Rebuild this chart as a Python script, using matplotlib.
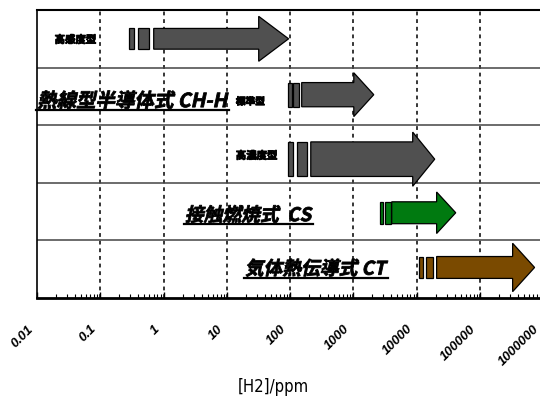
import matplotlib
matplotlib.use('Agg')
import matplotlib.pyplot as plt
import matplotlib.transforms as mtransforms
from matplotlib.patheffects import AbstractPathEffect, withStroke
from matplotlib.lines import Line2D

# ── data (ppm) ───────────────────────────────────────────────────────────
rows = [4.5, 3.5, 2.5, 1.5, 0.5]                       # row centres, top to bottom
bar1_start = [0.28, 92, 92, 2620, 10800]
bar1_end   = [0.34, 107, 111, 2930, 12500]
bar2_start = [0.40, 111, 128, 3150, 14000]
bar2_end   = [0.60, 138, 184, 3910, 18000]
body_start = [0.70, 153, 213, 4060, 20800]
head_start = [32, 1020, 8710, 20800, 331000]
tip        = [95, 2110, 19400, 41700, 736000]

tick_vals   = [0.01, 0.1, 1, 10, 100, 1000, 10000, 100000, 1000000]
tick_labels = ['0.01', '0.1', '1', '10', '100', '1000', '10000', '100000', '1000000']

# ── styles ───────────────────────────────────────────────────────────────
colors    = ['#505050', '#505050', '#505050', '#007a10', '#7a4a00']
body_half = [0.18, 0.21, 0.30, 0.19, 0.19]
head_half = [0.39, 0.38, 0.47, 0.36, 0.42]
y_shift   = [0.0, 0.03, -0.09, -0.02, 0.03]


class SkewBold(AbstractPathEffect):
    """fake bold italic for CJK fonts without such faces"""
    def __init__(self, angle=12, lw=0.6):
        super().__init__()
        self.angle = angle
        self.lw = lw

    def draw_path(self, renderer, gc, tpath, affine, rgbFace=None):
        tr = mtransforms.Affine2D().skew_deg(self.angle, 0) + affine
        gc0 = renderer.new_gc()
        gc0.copy_properties(gc)
        gc0.set_linewidth(self.lw)
        gc0.set_foreground('black')
        renderer.draw_path(gc0, tpath, tr, rgbFace)
        gc0.restore()


fig = plt.figure(figsize=(5.4, 4), dpi=100)
ax = fig.add_axes([37/540, 1 - 298/400, 506/540, 288/400])
ax.set_xscale('log')
ax.set_xlim(0.01, 1e6)
ax.set_ylim(0, 5)

# grid: dashed decades, solid row separators
for v in tick_vals[1:]:
    ax.axvline(v, color='black', lw=1.1, ls=(0, (2.5, 2.5)), zorder=1)
for yb in [1, 2, 3, 4]:
    ax.axhline(yb, color='#444444', lw=1.1, zorder=1)

# ── arrows ───────────────────────────────────────────────────────────────
for i, yc in enumerate(rows):
    y = yc + y_shift[i]
    bh, hh = body_half[i], head_half[i]
    for s, e in [(bar1_start[i], bar1_end[i]), (bar2_start[i], bar2_end[i])]:
        ax.barh(y, e - s, left=s, height=2 * bh, color=colors[i],
                edgecolor='black', lw=0.9, zorder=3)
    xs = [body_start[i], head_start[i], head_start[i], tip[i],
          head_start[i], head_start[i], body_start[i]]
    ys = [y - bh, y - bh, y - hh, y, y + hh, y + bh, y + bh]
    ax.fill(xs, ys, color=colors[i], edgecolor='black', lw=0.9, zorder=3)

# ── labels ───────────────────────────────────────────────────────────────
jp = ['Noto Sans CJK JP', 'DejaVu Sans']
thick = [withStroke(linewidth=0.6, foreground='black')]
ax.text(0.019, 4.48, '高感度型', fontsize=7.5, fontweight='bold', family=jp,
        ha='left', va='center', path_effects=thick)
ax.text(13.9, 3.41, '標準型', fontsize=7, fontweight='bold', family=jp,
        ha='left', va='center', path_effects=thick)
ax.text(13.9, 2.47, '高濃度型', fontsize=7.5, fontweight='bold', family=jp,
        ha='left', va='center', path_effects=thick)

big = []
big.append(ax.text(0.0101, 3.41, '熱線型半導体式 CH-H', fontsize=14, fontweight='bold',
                   family=jp, ha='left', va='center', path_effects=[SkewBold()]))
big.append(ax.text(2.18, 1.43, '接触燃焼式  CS', fontsize=13.5, fontweight='bold',
                   family=jp, ha='left', va='center', path_effects=[SkewBold()]))
big.append(ax.text(19.3, 0.5, '気体熱伝導式 CT', fontsize=13.5, fontweight='bold',
                   family=jp, ha='left', va='center', path_effects=[SkewBold()]))

# ── axes cosmetics ───────────────────────────────────────────────────────
ax.set_yticks([])
ax.set_xticks(tick_vals)
ax.set_xticklabels(tick_labels, rotation=45, ha='right', rotation_mode='anchor',
                   fontsize=9.5, fontweight='bold', fontstyle='italic',
                   family='Liberation Sans')
ax.tick_params(axis='x', which='major', direction='in', length=4, width=1, pad=18)
ax.tick_params(axis='x', which='minor', direction='in', length=3, width=0.8)
off = mtransforms.ScaledTranslation(-10/100, 0, fig.dpi_scale_trans)
for lab in ax.get_xticklabels():
    lab.set_transform(lab.get_transform() + off)
ax.spines['bottom'].set_linewidth(2)
ax.spines['top'].set_linewidth(1.5)
ax.spines['left'].set_linewidth(1.2)
ax.spines['right'].set_visible(False)

fig.text(273/540, 1 - 387/400, '[H2]/ppm', fontsize=12, family='DejaVu Sans',
         stretch='condensed', ha='center', va='center')

# underlines under the big labels
fig.canvas.draw()
r = fig.canvas.get_renderer()
for t in big:
    bb = t.get_window_extent(r)
    fig.add_artist(Line2D([bb.x0 - 1, bb.x1 + 2], [bb.y0 + 1, bb.y0 + 1],
                          transform=mtransforms.IdentityTransform(),
                          color='black', lw=1.6))

fig.savefig('out.png', dpi=100)
